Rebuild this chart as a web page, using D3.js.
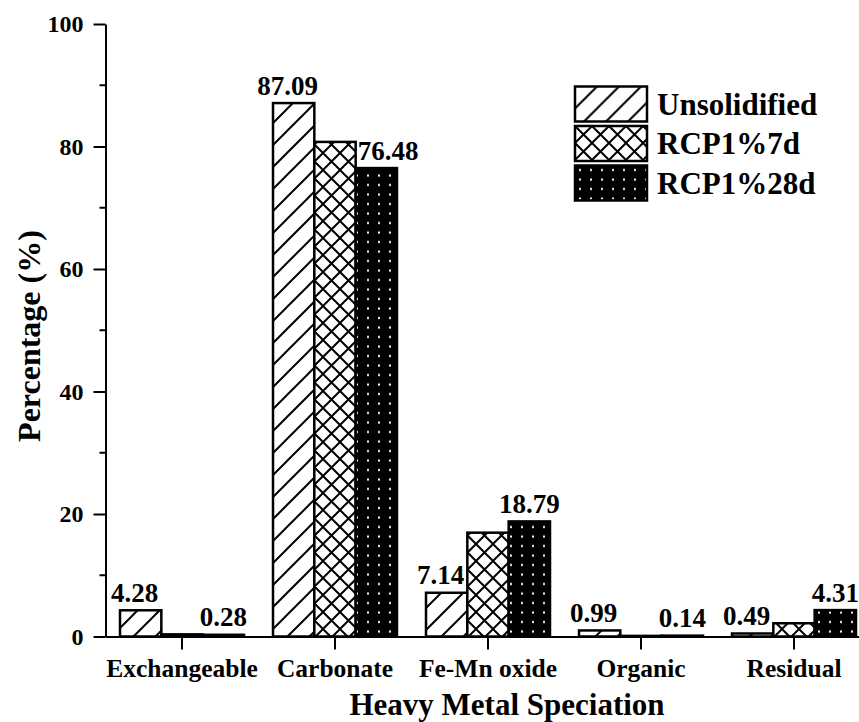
<!DOCTYPE html>
<html>
<head>
<meta charset="utf-8">
<script src="https://cdn.jsdelivr.net/npm/d3@7"></script>
<style>
  html, body { margin: 0; padding: 0; background: #fff; }
  svg { display: block; }
  text { font-family: "Times New Roman", "Liberation Serif", serif; font-weight: bold; fill: #000; }
</style>
</head>
<body>
<svg id="chart" width="859" height="722"></svg>
<script>
// Heavy metal speciation (%) for each curing state
const categories = ["Exchangeable", "Carbonate", "Fe-Mn oxide", "Organic", "Residual"];
const seriesNames = ["Unsolidified", "RCP1%7d", "RCP1%28d"];
const unsolidified = [4.28, 87.09, 7.14, 0.99, 0.49];
const rcp7d = [0.35, 80.75, 16.95, 0.10, 2.16];
const rcp28d = [0.28, 76.48, 18.79, 0.14, 4.31];
const seriesLabeled = [true, false, true];
const yTicks = [0, 20, 40, 60, 80, 100];
const yMinorTicks = [10, 30, 50, 70, 90];

const seriesValues = [unsolidified, rcp7d, rcp28d];

const svg = d3.select("#chart");
const defs = svg.append("defs");

// Fill patterns: diagonal hatch, cross hatch, white dots on black
const hatch = defs.append("pattern").attr("id", "p0")
  .attr("patternUnits", "userSpaceOnUse").attr("width", 22).attr("height", 22);
hatch.append("rect").attr("width", 22).attr("height", 22).attr("fill", "#fff");
hatch.append("path").attr("d", "M-2,2 L2,-2 M0,22 L22,0 M20,24 L24,20")
  .attr("stroke", "#000").attr("stroke-width", 2);

const cross = defs.append("pattern").attr("id", "p1")
  .attr("patternUnits", "userSpaceOnUse").attr("width", 17).attr("height", 17);
cross.append("rect").attr("width", 17).attr("height", 17).attr("fill", "#fff");
cross.append("path").attr("d", "M0,0 L17,17 M0,17 L17,0")
  .attr("stroke", "#000").attr("stroke-width", 2);

const dots = defs.append("pattern").attr("id", "p2")
  .attr("patternUnits", "userSpaceOnUse").attr("width", 11).attr("height", 9.5);
dots.append("rect").attr("width", 11).attr("height", 9.5).attr("fill", "#000");
dots.append("rect").attr("x", 4).attr("y", 3.5).attr("width", 2).attr("height", 2).attr("fill", "#fff");

const fills = ["url(#p0)", "url(#p1)", "url(#p2)"];

// Scales
const x0 = d3.scaleBand().domain(categories).range([105.5, 870.5]).padding(0);
const groupWidth = 124;
const x1 = d3.scaleBand().domain(seriesNames)
  .range([(x0.bandwidth() - groupWidth) / 2, (x0.bandwidth() + groupWidth) / 2]);
const y = d3.scaleLinear().domain([0, 100]).range([636.5, 24]);

// Bars
const bars = [];
categories.forEach((c, i) => {
  seriesNames.forEach((s, j) => {
    bars.push({ cat: c, ci: i, ser: s, si: j, v: seriesValues[j][i] });
  });
});

svg.append("g").selectAll("rect").data(bars).join("rect")
  .attr("x", d => x0(d.cat) + x1(d.ser))
  .attr("y", d => y(d.v))
  .attr("width", x1.bandwidth())
  .attr("height", d => y(0) - y(d.v))
  .attr("fill", d => fills[d.si])
  .attr("stroke", "#000")
  .attr("stroke-width", 2.5);

// Value labels
const labelFont = 27;
svg.append("g").selectAll("text")
  .data(bars.filter(d => seriesLabeled[d.si]))
  .join("text")
  .attr("font-size", labelFont)
  .attr("text-anchor", "middle")
  .attr("x", d => {
    const left = x0(d.cat) + x1(d.ser);
    let cx = left + x1.bandwidth() / 2;
    if (d.si === 0) cx -= 6;
    // step to the right when the neighbouring bar on the left is taller
    if (d.si > 0 && seriesValues[d.si - 1][d.ci] > d.v && d.v > 10) {
      const w = d.v.toFixed(2).length * labelFont * 0.45;
      cx = left + 2 + w / 2;
    }
    return cx;
  })
  .attr("y", d => y(d.v) - 8.5)
  .text(d => d.v.toFixed(2));

// Axes
const axisLeft = d3.axisLeft(y).tickValues(yTicks).tickSize(12).tickSizeOuter(0).tickPadding(10);
const gy = svg.append("g").attr("transform", "translate(105.5,0)").call(axisLeft);
gy.selectAll("text").attr("font-size", 24).attr("dy", "0.33em");
gy.append("g").selectAll("line").data(yMinorTicks).join("line")
  .attr("x1", -6).attr("x2", 0).attr("y1", d => y(d)).attr("y2", d => y(d))
  .attr("stroke", "#000").attr("stroke-width", 2);

const axisBottom = d3.axisBottom(x0).tickSize(13).tickSizeOuter(0).tickPadding(9);
const gx = svg.append("g").attr("transform", "translate(0,636.5)").call(axisBottom);
gx.selectAll("text").attr("font-size", 25.5).attr("dy", "0.71em");

svg.selectAll(".domain, .tick line").attr("stroke", "#000").attr("stroke-width", 2);

// Axis titles
svg.append("text").attr("font-size", 31)
  .attr("text-anchor", "middle")
  .attr("x", 507).attr("y", 714.5)
  .text("Heavy Metal Speciation");

svg.append("text").attr("font-size", 32)
  .attr("text-anchor", "middle")
  .attr("transform", "translate(40,336) rotate(-90)")
  .text("Percentage (%)");

// Legend
const legend = svg.append("g").attr("transform", "translate(575,86.5)");
seriesNames.forEach((s, j) => {
  const g = legend.append("g").attr("transform", `translate(0,${j * 39.5})`);
  g.append("rect").attr("width", 72).attr("height", 35)
    .attr("fill", fills[j]).attr("stroke", "#000").attr("stroke-width", 2.5);
  g.append("text").attr("x", 82).attr("y", 17.5).attr("dy", "0.34em")
    .attr("font-size", 31).text(s);
});
</script>
</body>
</html>
